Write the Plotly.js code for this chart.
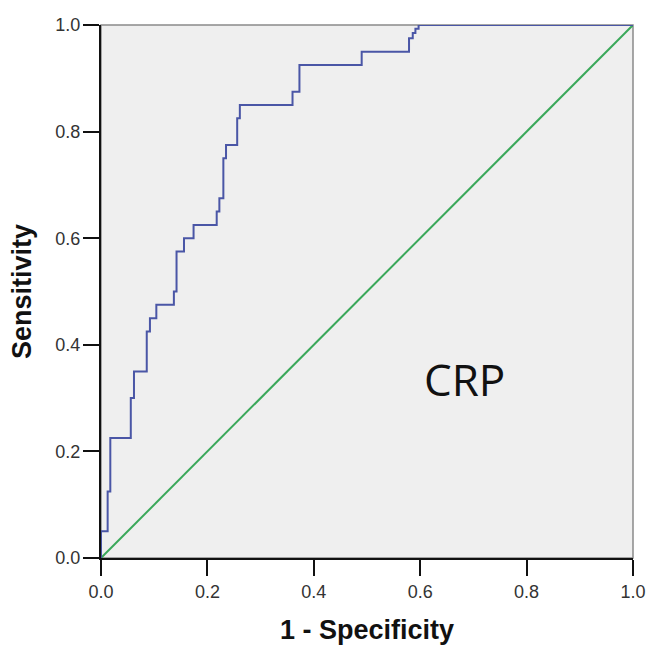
<!DOCTYPE html>
<html>
<head>
<meta charset="utf-8">
<script src="https://cdn.plot.ly/plotly-3.0.1.min.js"></script>
<style>html,body{margin:0;padding:0;background:#fff;}#chart{width:647px;height:647px;}</style>
</head>
<body>
<div id="chart"></div>
<script>
// ROC curve points (1 - specificity, sensitivity)
const fpr = [0, 0, 0.0125, 0.0175, 0.056, 0.062, 0.086, 0.092, 0.104, 0.137, 0.142, 0.156, 0.174, 0.2175, 0.2225, 0.23, 0.235, 0.256, 0.261, 0.36, 0.373, 0.49, 0.579, 0.586, 0.591, 0.597, 1.0];
const tpr = [0, 0.05, 0.125, 0.225, 0.3, 0.35, 0.425, 0.45, 0.475, 0.5, 0.575, 0.6, 0.625, 0.65, 0.675, 0.75, 0.775, 0.825, 0.85, 0.875, 0.925, 0.95, 0.975, 0.985, 0.993, 1.0, 1.0];
// reference diagonal
const refX = [0, 1];
const refY = [0, 1];
const tickVals = [0, 0.2, 0.4, 0.6, 0.8, 1.0];
const tickText = ['0.0', '0.2', '0.4', '0.6', '0.8', '1.0'];
const labelText = 'CRP';

const traces = [
  {x: refX, y: refY, mode: 'lines', line: {color: '#3aa85a', width: 2}, hoverinfo: 'skip', showlegend: false},
  {x: fpr, y: tpr, mode: 'lines', line: {color: '#4a56a6', width: 2, shape: 'hv'}, showlegend: false}
];

const axisCommon = {
  range: [0, 1],
  tickvals: tickVals,
  ticktext: tickText,
  ticks: 'outside',
  ticklen: 16,
  tickwidth: 2,
  tickcolor: '#111',
  showline: true,
  linecolor: '#111',
  linewidth: 2,
  showgrid: false,
  zeroline: false,
  fixedrange: true,
  tickfont: {family: 'Liberation Sans, Arial, sans-serif', size: 18, color: '#333'}
};

const layout = {
  width: 647,
  height: 647,
  margin: {l: 101, r: 14, t: 25, b: 89},
  paper_bgcolor: '#ffffff',
  plot_bgcolor: '#efefef',
  xaxis: Object.assign({}, axisCommon, {
    title: {text: '1 - Specificity', standoff: 20, font: {family: 'Liberation Sans, Arial, sans-serif', size: 27, color: '#111', weight: 'bold'}}
  }),
  yaxis: Object.assign({}, axisCommon, {
    ticklabelstandoff: -1,
    title: {text: 'Sensitivity', standoff: 16, font: {family: 'Liberation Sans, Arial, sans-serif', size: 27, color: '#111', weight: 'bold'}}
  }),
  shapes: [
    {type: 'rect', xref: 'paper', yref: 'paper', x0: 0, x1: 1, y0: 0, y1: 1, line: {color: '#8a8a8a', width: 1.5}, layer: 'below'}
  ],
  annotations: [
    {x: 0.684, y: 0.336, xref: 'x', yref: 'y', text: labelText, showarrow: false,
     font: {family: 'Open Sans, Noto Sans, sans-serif', size: 44, color: '#111'}}
  ]
};

Plotly.newPlot('chart', traces, layout, {displayModeBar: false, staticPlot: true});
</script>
</body>
</html>
